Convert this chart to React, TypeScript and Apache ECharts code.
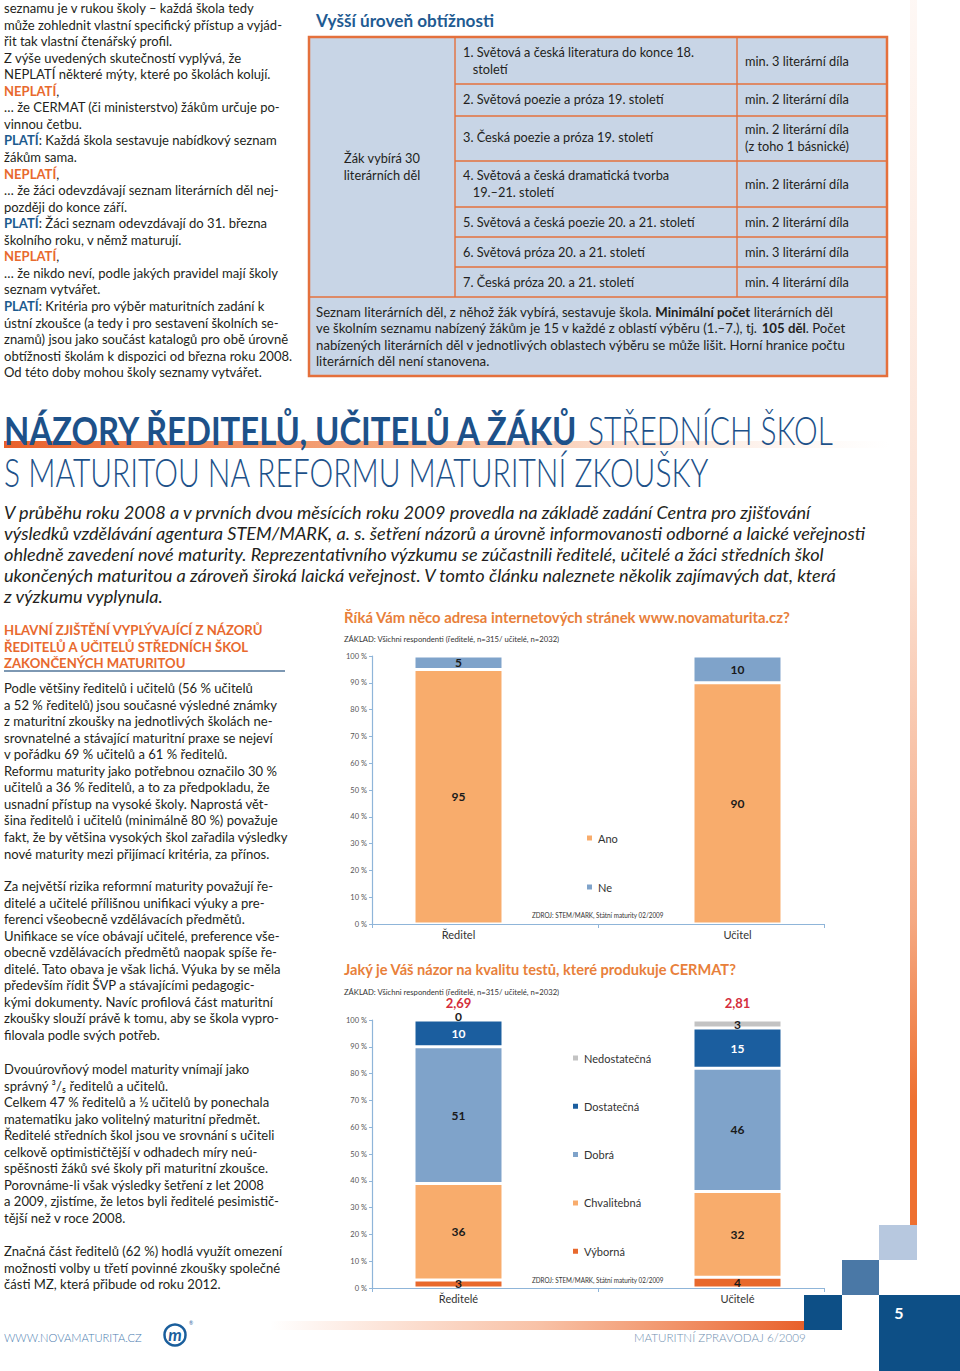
import React, { useEffect, useRef } from 'react';
import * as echarts from 'echarts';

const FONT = 'Lato';
const TXT = '#231f20';
const ORANGE = '#e8692e';
const TITLE_OR = '#e8803a';
const BLUE_P = '#1d5a8e';
const HEAD_BLUE = '#1d5189';
const AX = '#8fb5d9';

// ---------- chart 1 data ----------
const cat1 = ['Ředitel', 'Učitel'];
const ano = [95, 90];
const ne = [5, 10];
// ---------- chart 2 data ----------
const cat2 = ['Ředitelé', 'Učitelé'];
const vyborna = [3, 4];
const chvalitebna = [36, 32];
const dobra = [51, 46];
const dostatecna = [10, 15];
const nedostatecna = [0, 3];
const prumer = ['2,69', '2,81'];
const yMin = 0;
const yMax = 100;
const yStep = 10;

// ---------- texts ----------
const topLeftLines = [
  'seznamu je v rukou školy – každá škola tedy',
  'může zohlednit vlastní specifický přístup a vyjád-',
  'řit tak vlastní čtenářský profil.',
  'Z výše uvedených skutečností vyplývá, že',
  'NEPLATÍ některé mýty, které po školách kolují.',
  '{o|NEPLATÍ},',
  '… že CERMAT (či ministerstvo) žákům určuje po-',
  'vinnou četbu.',
  '{p|PLATÍ}: Každá škola sestavuje nabídkový seznam',
  'žákům sama.',
  '{o|NEPLATÍ},',
  '… že žáci odevzdávají seznam literárních děl nej-',
  'později do konce září.',
  '{p|PLATÍ}: Žáci seznam odevzdávají do 31. března',
  'školního roku, v němž maturují.',
  '{o|NEPLATÍ},',
  '… že nikdo neví, podle jakých pravidel mají školy',
  'seznam vytvářet.',
  '{p|PLATÍ}: Kritéria pro výběr maturitních zadání k',
  'ústní zkoušce (a tedy i pro sestavení školních se-',
  'znamů) jsou jako součást katalogů pro obě úrovně',
  'obtížnosti školám k dispozici od března roku 2008.',
  'Od této doby mohou školy seznamy vytvářet.',
];

const tableRows = [
  { lines: ['1. Světová a česká literatura do konce 18.', '   století'], ys: [52, 69], min: ['min. 3 literární díla'], mys: [61] },
  { lines: ['2. Světová poezie a próza 19. století'], ys: [99], min: ['min. 2 literární díla'], mys: [99] },
  { lines: ['3. Česká poezie a próza 19. století'], ys: [137], min: ['min. 2 literární díla', '(z toho 1 básnické)'], mys: [129, 146] },
  { lines: ['4. Světová a česká dramatická tvorba', '   19.–21. století'], ys: [175, 192], min: ['min. 2 literární díla'], mys: [184] },
  { lines: ['5. Světová a česká poezie 20. a 21. století'], ys: [222], min: ['min. 2 literární díla'], mys: [222] },
  { lines: ['6. Světová próza 20. a 21. století'], ys: [252], min: ['min. 3 literární díla'], mys: [252] },
  { lines: ['7. Česká próza 20. a 21. století'], ys: [282], min: ['min. 4 literární díla'], mys: [282] },
];
const tableRowBorders = [84, 116, 161, 207, 237, 267];
const tableNote = [
  'Seznam literárních děl, z něhož žák vybírá, sestavuje škola. {b|Minimální počet} literárních děl',
  've školním seznamu nabízený žákům je 15 v každé z oblastí výběru (1.–7.), tj. {b|105 děl}. Počet',
  'nabízených literárních děl v jednotlivých oblastech výběru se může lišit. Horní hranice počtu',
  'literárních děl není stanovena.',
];

const introLines = [
  'V průběhu roku 2008 a v prvních dvou měsících roku 2009 provedla na základě zadání Centra pro zjišťování',
  'výsledků vzdělávání agentura STEM/MARK, a. s. šetření názorů a úrovně informovanosti odborné a laické veřejnosti',
  'ohledně zavedení nové maturity. Reprezentativního výzkumu se zúčastnili ředitelé, učitelé a žáci středních škol',
  'ukončených maturitou a zároveň široká laická veřejnost. V tomto článku naleznete několik zajímavých dat, která',
  'z výzkumu vyplynula.',
];

const sideHead = [
  'HLAVNÍ ZJIŠTĚNÍ VYPLÝVAJÍCÍ Z NÁZORŮ',
  'ŘEDITELŮ A UČITELŮ STŘEDNÍCH ŠKOL',
  'ZAKONČENÝCH MATURITOU',
];

const paragraphs = [
  { y0: 688, lines: [
    'Podle většiny ředitelů i učitelů (56 % učitelů',
    'a 52 % ředitelů) jsou současné výsledné známky',
    'z maturitní zkoušky na jednotlivých školách ne-',
    'srovnatelné a stávající maturitní praxe se nejeví',
    'v pořádku 69 % učitelů a 61 % ředitelů.',
    'Reformu maturity jako potřebnou označilo 30 %',
    'učitelů a 36 % ředitelů, a to za předpokladu, že',
    'usnadní přístup na vysoké školy. Naprostá vět-',
    'šina ředitelů i učitelů (minimálně 80 %) považuje',
    'fakt, že by většina vysokých škol zařadila výsledky',
    'nové maturity mezi přijímací kritéria, za přínos.',
  ] },
  { y0: 886, lines: [
    'Za největší rizika reformní maturity považují ře-',
    'ditelé a učitelé přílišnou unifikaci výuky a pre-',
    'ferenci všeobecně vzdělávacích předmětů.',
    'Unifikace se více obávají učitelé, preference vše-',
    'obecně vzdělávacích předmětů naopak spíše ře-',
    'ditelé. Tato obava je však lichá. Výuka by se měla',
    'především řídit ŠVP a stávajícími pedagogic-',
    'kými dokumenty. Navíc profilová část maturitní',
    'zkoušky slouží právě k tomu, aby se škola vypro-',
    'filovala podle svých potřeb.',
  ] },
  { y0: 1069, lines: [
    'Dvouúrovňový model maturity vnímají jako',
    'správný ³/₅ ředitelů a učitelů.',
    'Celkem 47 % ředitelů a ½ učitelů by ponechala',
    'matematiku jako volitelný maturitní předmět.',
    'Ředitelé středních škol jsou ve srovnání s učiteli',
    'celkově optimističtější v odhadech míry neú-',
    'spěšnosti žáků své školy při maturitní zkoušce.',
    'Porovnáme-li však výsledky šetření z let 2008',
    'a 2009, zjistíme, že letos byli ředitelé pesimistič-',
    'tější než v roce 2008.',
  ] },
  { y0: 1251, lines: [
    'Značná část ředitelů (62 %) hodlá využít omezení',
    'možnosti volby u třetí povinné zkoušky společné',
    'části MZ, která přibude od roku 2012.',
  ] },
];

// ---------- text helpers ----------
let ctx: CanvasRenderingContext2D | null = null;
function fontStr(size: number, weight: any = 'normal', style = 'normal') {
  return `${style} ${weight} ${size}px ${FONT}`;
}
function measure(s: string, font: string) {
  if (!ctx) ctx = document.createElement('canvas').getContext('2d');
  ctx!.font = font;
  return ctx!.measureText(s).width;
}
function textWidth(t: string, size: number, weight: any, style: string, rich?: any) {
  let total = 0;
  let last = 0;
  const re = /\{(\w+)\|([^}]*)\}/g;
  let m: RegExpExecArray | null;
  while ((m = re.exec(t))) {
    total += measure(t.slice(last, m.index), fontStr(size, weight, style));
    const rs = (rich && rich[m[1]]) || {};
    total += measure(m[2], fontStr(rs.fontSize ?? size, rs.fontWeight ?? weight, rs.fontStyle ?? style));
    last = re.lastIndex;
  }
  total += measure(t.slice(last), fontStr(size, weight, style));
  return total;
}
function scaleFor(t: string, size: number, w: number, weight: any = 'normal', style = 'normal', rich?: any) {
  return w / textWidth(t, size, weight, style, rich);
}
function T(o: any) {
  const weight = o.weight ?? 'normal';
  const fst = o.fstyle ?? 'normal';
  let sx = o.sx ?? 1;
  if (o.w) sx = scaleFor(o.text, o.size, o.w, weight, fst, o.rich);
  const align = o.align ?? 'left';
  return {
    type: 'text', x: o.x, y: o.y, scaleX: sx, z: o.z ?? 10, silent: true,
    style: {
      text: o.text, fontSize: o.size, fontFamily: FONT, fontWeight: weight, fontStyle: fst,
      fill: o.color ?? TXT, textAlign: align, align, textVerticalAlign: 'middle', verticalAlign: 'middle',
      rich: o.rich,
    },
  };
}
function rs(size: number, color: string, weight: any = 'bold') {
  return { fontSize: size, fontFamily: FONT, fontWeight: weight, fill: color, color };
}

const BODY = 13.6;

function buildGraphic() {
  const g: any[] = [];
  // decorations
  g.push({ type: 'rect', z: 1, silent: true, shape: { x: 910, y: 0, width: 7, height: 1225 },
    style: { fill: new echarts.graphic.LinearGradient(0, 0, 0, 1, [
      { offset: 0, color: 'rgba(238,112,48,0.05)' },
      { offset: 0.45, color: 'rgba(238,112,48,0.2)' },
      { offset: 0.75, color: 'rgba(238,112,48,0.6)' },
      { offset: 0.9, color: 'rgba(238,112,48,1)' },
      { offset: 1, color: 'rgba(238,112,48,1)' },
    ]) } });
  g.push({ type: 'rect', z: 1, silent: true, shape: { x: 879, y: 1225, width: 38, height: 35 }, style: { fill: '#b7c8df' } });
  g.push({ type: 'rect', z: 1, silent: true, shape: { x: 842, y: 1260, width: 37, height: 35 }, style: { fill: '#4a78a6' } });
  g.push({ type: 'rect', z: 1, silent: true, shape: { x: 804, y: 1295, width: 38, height: 35 }, style: { fill: '#0d4f86' } });
  g.push({ type: 'rect', z: 1, silent: true, shape: { x: 879, y: 1295, width: 81, height: 76 }, style: { fill: '#0d4f86' } });
  g.push(T({ x: 899, y: 1312, text: '5', size: 16, weight: 'bold', color: '#ffffff', align: 'center' }));
  g.push({ type: 'rect', z: 1, silent: true, shape: { x: 270, y: 1321, width: 534, height: 9 },
    style: { fill: new echarts.graphic.LinearGradient(0, 0, 1, 0, [
      { offset: 0, color: 'rgba(240,110,50,0)' },
      { offset: 0.5, color: 'rgba(240,120,60,0.45)' },
      { offset: 1, color: 'rgba(232,96,42,1)' },
    ]) } });
  // heading gradient bar
  g.push({ type: 'rect', z: 1, silent: true, shape: { x: 4, y: 441, width: 886, height: 7 },
    style: { fill: new echarts.graphic.LinearGradient(0, 0, 1, 0, [
      { offset: 0, color: 'rgba(232,96,42,1)' },
      { offset: 0.45, color: 'rgba(243,150,100,0.8)' },
      { offset: 1, color: 'rgba(250,215,195,0)' },
    ]) } });

  // top-left column
  const bodyRich = { o: rs(BODY, ORANGE), p: rs(BODY, BLUE_P) };
  const sBody = scaleFor(topLeftLines[1], BODY, 279);
  topLeftLines.forEach((t, i) => g.push(T({ x: 4, y: 8 + i * 16.55, text: t, size: BODY, sx: sBody, rich: bodyRich })));

  // table
  g.push(T({ x: 316, y: 21, text: 'Vyšší úroveň obtížnosti', size: 17, weight: 'bold', color: '#1f5b92', w: 178 }));
  g.push({ type: 'rect', z: 2, silent: true, shape: { x: 309, y: 37, width: 578, height: 339 },
    style: { fill: '#c8d5e6', stroke: '#e4703c', lineWidth: 2.5 } });
  const lineSt = { stroke: '#e4703c', lineWidth: 1.4 };
  g.push({ type: 'line', z: 3, silent: true, shape: { x1: 455, y1: 37, x2: 455, y2: 297 }, style: lineSt });
  g.push({ type: 'line', z: 3, silent: true, shape: { x1: 737, y1: 37, x2: 737, y2: 297 }, style: lineSt });
  tableRowBorders.forEach((y) => g.push({ type: 'line', z: 3, silent: true, shape: { x1: 455, y1: y, x2: 887, y2: y }, style: lineSt }));
  g.push({ type: 'line', z: 3, silent: true, shape: { x1: 309, y1: 297, x2: 887, y2: 297 }, style: lineSt });
  const sTab = scaleFor('5. Světová a česká poezie 20. a 21. století', 13, 232);
  tableRows.forEach((r) => {
    r.lines.forEach((t, i) => g.push(T({ x: 463, y: r.ys[i], text: t, size: 13, sx: sTab })));
    r.min.forEach((t, i) => g.push(T({ x: 745, y: r.mys[i], text: t, size: 13, sx: sTab })));
  });
  g.push(T({ x: 382, y: 158, text: 'Žák vybírá 30', size: 13, sx: sTab, align: 'center' }));
  g.push(T({ x: 382, y: 175, text: 'literárních děl', size: 13, sx: sTab, align: 'center' }));
  const noteRich = { b: rs(13, TXT) };
  const sNote = scaleFor(tableNote[0], 13, 517, 'normal', 'normal', noteRich);
  tableNote.forEach((t, i) => g.push(T({ x: 316, y: 312 + i * 16.5, text: t, size: 13, sx: sNote, rich: noteRich })));

  // main heading
  g.push(T({ x: 4, y: 430, text: 'NÁZORY ŘEDITELŮ, UČITELŮ A ŽÁKŮ', size: 39, weight: 'bold', color: HEAD_BLUE, w: 576 }));
  g.push(T({ x: 588, y: 430, text: 'STŘEDNÍCH ŠKOL', size: 39, weight: 300, color: HEAD_BLUE, w: 245 }));
  g.push(T({ x: 4, y: 472, text: 'S MATURITOU NA REFORMU MATURITNÍ ZKOUŠKY', size: 39, weight: 300, color: HEAD_BLUE, w: 706 }));

  // intro
  const sIntro = scaleFor(introLines[1], 18, 863, 'normal', 'italic');
  introLines.forEach((t, i) => g.push(T({ x: 4, y: 512 + i * 21, text: t, size: 18, fstyle: 'italic', sx: sIntro })));

  // side heading
  const sHead = scaleFor(sideHead[0], 13.5, 259, 'bold');
  sideHead.forEach((t, i) => g.push(T({ x: 4, y: 630 + i * 16.5, text: t, size: 13.5, weight: 'bold', color: ORANGE, sx: sHead })));
  g.push({ type: 'line', z: 3, silent: true, shape: { x1: 4, y1: 671, x2: 285, y2: 671 }, style: { stroke: '#7d98b3', lineWidth: 2 } });

  paragraphs.forEach((p) => p.lines.forEach((t, i) => g.push(T({ x: 4, y: p.y0 + i * 16.55, text: t, size: BODY, sx: sBody }))));

  // chart titles
  g.push(T({ x: 344, y: 618, text: 'Říká Vám něco adresa internetových stránek www.novamaturita.cz?', size: 14.5, weight: 'bold', color: TITLE_OR, w: 447 }));
  g.push(T({ x: 344, y: 639, text: 'ZÁKLAD: Všichni respondenti (ředitelé, n=315/ učitelé, n=2032)', size: 8, color: '#333', w: 216 }));
  g.push(T({ x: 532, y: 915, text: 'ZDROJ: STEM/MARK, Státní maturity 02/2009', size: 7, color: '#333', w: 132 }));
  g.push(T({ x: 344, y: 970, text: 'Jaký je Váš názor na kvalitu testů, které produkuje CERMAT?', size: 14.5, weight: 'bold', color: TITLE_OR, w: 393 }));
  g.push(T({ x: 344, y: 992, text: 'ZÁKLAD: Všichni respondenti (ředitelé, n=315/ učitelé, n=2032)', size: 8, color: '#333', w: 216 }));
  g.push(T({ x: 532, y: 1280, text: 'ZDROJ: STEM/MARK, Státní maturity 02/2009', size: 7, color: '#333', w: 132 }));

  // footer
  g.push(T({ x: 4, y: 1338, text: 'WWW.NOVAMATURITA.CZ', size: 11, weight: 300, color: '#4c7db0', w: 138 }));
  g.push(T({ x: 634, y: 1338, text: 'MATURITNÍ ZPRAVODAJ 6/2009', size: 11, weight: 300, color: '#6f8fb0', w: 172 }));
  g.push({ type: 'circle', z: 5, silent: true, shape: { cx: 175, cy: 1335, r: 10.5 }, style: { fill: '#fff', stroke: '#1a5e9c', lineWidth: 2.5 } });
  g.push(T({ x: 175, y: 1334, text: 'm', size: 17, weight: 'bold', fstyle: 'italic', color: '#1a5e9c', align: 'center' }));
  g.push(T({ x: 189, y: 1323, text: '®', size: 5, color: '#1a5e9c' }));
  return g;
}

function mkX(idx: number, cats: string[]) {
  return {
    type: 'category', gridIndex: idx, data: cats,
    axisLine: { lineStyle: { color: AX, width: 1.2 } },
    axisTick: { show: true, length: 4, lineStyle: { color: AX } },
    axisLabel: {
      margin: 5, fontSize: 11, color: '#333', fontFamily: FONT,
      formatter: (v: string, i: number) => (i === 0 ? `{l|${v}}` : `{r|${v}}`),
      rich: {
        l: { padding: [0, 53, 0, 0], fontSize: 11, color: '#333', fontFamily: FONT },
        r: { padding: [0, 0, 0, 53], fontSize: 11, color: '#333', fontFamily: FONT },
      },
    },
  };
}
function mkY(idx: number) {
  return {
    type: 'value', gridIndex: idx, min: yMin, max: yMax, interval: yStep,
    axisLine: { show: true, lineStyle: { color: AX, width: 1.2 } },
    axisTick: { show: true, length: 3, lineStyle: { color: AX } },
    splitLine: { show: false },
    axisLabel: { formatter: '{value} %', fontSize: 7.5, color: '#555', fontFamily: FONT, margin: 5 },
  };
}

function buildStacked(idx: number, cats: string[], groups: any[], prefix: string) {
  const out: any[] = [];
  cats.forEach((_, c) => {
    groups.forEach((gr) => {
      out.push({
        type: 'bar', name: gr.name, xAxisIndex: idx, yAxisIndex: idx,
        stack: `${prefix}${c}`, barWidth: 89, barGap: '-40.45%',
        data: cats.map((__, j) => {
          if (j !== c) return null;
          const v = gr.data[c];
          return v === 0 ? { value: v, label: { offset: [0, -4] } } : v;
        }),
        itemStyle: { color: gr.color, borderColor: '#ffffff', borderWidth: 1.5 },
        label: {
          show: true, position: 'inside', color: gr.labelColor ?? '#1a1a1a', fontWeight: 'bold',
          fontSize: 12, fontFamily: FONT, formatter: (p: any) => String(p.value),
        },
        emphasis: { disabled: true },
      });
    });
    if (prefix === 'b') {
      out.push({
        type: 'bar', name: 'průměr', xAxisIndex: idx, yAxisIndex: idx,
        stack: `${prefix}${c}`, barWidth: 89, barGap: '-40.45%',
        data: cats.map((__, j) => (j === c ? 0 : null)),
        itemStyle: { color: 'rgba(0,0,0,0)', borderWidth: 0 },
        label: {
          show: true, position: 'top', distance: 11, color: '#d42e3c', fontWeight: 'bold',
          fontSize: 13, fontFamily: FONT, formatter: () => prumer[c],
        },
        emphasis: { disabled: true },
      });
    }
  });
  return out;
}

export default function App() {
  const ref = useRef<HTMLDivElement>(null);
  useEffect(() => {
    if (!ref.current) return;
    const chart = echarts.init(ref.current, undefined, { renderer: 'svg' });
    const groups1 = [
      { name: 'Ano', data: ano, color: '#f8ac6c' },
      { name: 'Ne', data: ne, color: '#7fa3ca' },
    ];
    const groups2 = [
      { name: 'Výborná', data: vyborna, color: '#e8692d' },
      { name: 'Chvalitebná', data: chvalitebna, color: '#f8ac6c' },
      { name: 'Dobrá', data: dobra, color: '#7fa3ca' },
      { name: 'Dostatečná', data: dostatecna, color: '#1b5e9f', labelColor: '#ffffff' },
      { name: 'Nedostatečná', data: nedostatecna, color: '#c3c3c3' },
    ];
    const legendText = { fontSize: 11, color: '#333', fontFamily: FONT, lineHeight: 12 };
    chart.setOption({
      animation: false,
      grid: [
        { left: 372, top: 656, width: 452, height: 268 },
        { left: 372, top: 1020, width: 452, height: 268 },
      ],
      xAxis: [mkX(0, cat1), mkX(1, cat2)],
      yAxis: [mkY(0), mkY(1)],
      legend: [
        { data: ['Ano', 'Ne'], orient: 'vertical', left: 580, top: 827, itemWidth: 7, itemHeight: 7,
          itemGap: 37, icon: 'rect', textStyle: legendText, selectedMode: false },
        { data: ['Nedostatečná', 'Dostatečná', 'Dobrá', 'Chvalitebná', 'Výborná'], orient: 'vertical',
          left: 566, top: 1047, itemWidth: 7, itemHeight: 7, itemGap: 36.3, icon: 'rect',
          textStyle: legendText, selectedMode: false },
      ],
      series: [...buildStacked(0, cat1, groups1, 'a'), ...buildStacked(1, cat2, groups2, 'b')],
      graphic: buildGraphic(),
    });
    return () => chart.dispose();
  }, []);
  return <div ref={ref} style={{ position: 'absolute', left: 0, top: 0, width: 960, height: 1371, background: '#fff' }} />;
}
